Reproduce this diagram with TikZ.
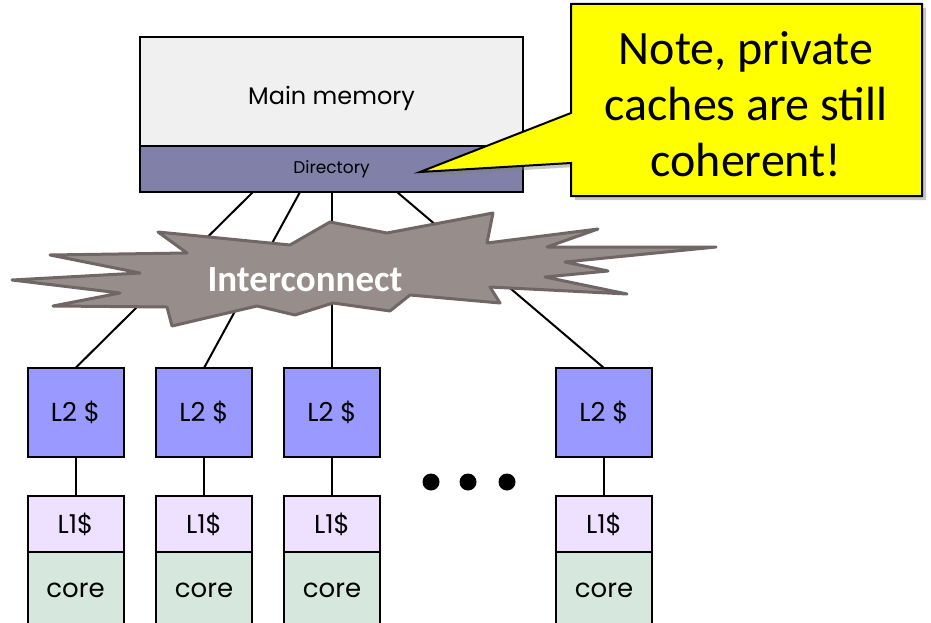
\documentclass[tikz,border=0pt]{standalone}
\usepackage{fontspec}
\setmainfont{Poppins}
\newfontfamily\calfont{Carlito}
\usetikzlibrary{positioning}
\usetikzlibrary{shadows}
\definecolor{memgray}{RGB}{240,240,240}
\definecolor{dircol}{RGB}{128,128,168}
\definecolor{ltwo}{RGB}{153,153,255}
\definecolor{lone}{RGB}{238,224,255}
\definecolor{corecol}{RGB}{214,232,222}
\definecolor{netfill}{RGB}{151,141,139}
\definecolor{netline}{RGB}{112,102,102}
\definecolor{noteyel}{RGB}{255,255,0}
\tikzset{box/.style={draw,line width=2pt,inner sep=0pt,outer sep=0pt}}
\tikzset{ltwobox/.style={box,fill=ltwo,minimum width=96pt,minimum height=89pt,font=\fontsize{26}{30}\selectfont}}
\tikzset{lonebox/.style={box,fill=lone,minimum width=96pt,minimum height=56pt,font=\fontsize{26}{30}\selectfont}}
\tikzset{corebox/.style={box,fill=corecol,minimum width=96pt,minimum height=76pt,font=\fontsize{26}{30}\selectfont}}
\tikzset{wire/.style={line width=2pt}}

\begin{document}
\begin{tikzpicture}[x=1pt,y=-1pt]
                \clip (0,0) rectangle (931,623);

                % Memory
                \node[box,fill=memgray,minimum width=383pt,minimum height=109pt,text height=27pt,text depth=0pt,font=\fontsize{24}{28}\selectfont] (mem) at (331.5,91.5) {Main memory};
                \node[box,fill=dircol,minimum width=383pt,minimum height=46pt,font=\fontsize{17}{20}\selectfont,below=0pt of mem] (dir) {Directory};

                % Caches
                \node[ltwobox] (l2a) at (75.5,412.5) {L2 \$};
                \node[ltwobox] (l2b) at (204,412.5) {L2 \$};
                \node[ltwobox] (l2c) at (332,412.5) {L2 \$};
                \node[ltwobox] (l2d) at (604,412.5) {L2 \$};

                \node[lonebox] (l1a) at (75.5,524) {L1\$};
                \node[lonebox] (l1b) at (204,524) {L1\$};
                \node[lonebox] (l1c) at (332,524) {L1\$};
                \node[lonebox] (l1d) at (604,524) {L1\$};

                \node[corebox,below=0pt of l1a] (corea) {core};
                \node[corebox,below=0pt of l1b] (coreb) {core};
                \node[corebox,below=0pt of l1c] (corec) {core};
                \node[corebox,below=0pt of l1d] (cored) {core};

                \draw[wire] (l2a) -- (l1a);
                \draw[wire] (l2b) -- (l1b);
                \draw[wire] (l2c) -- (l1c);
                \draw[wire] (l2d) -- (l1d);

                % Links
                \coordinate (da) at (253,192);
                \coordinate (db) at (300,192);
                \coordinate (dc) at (332,192);
                \coordinate (dd) at (397,192);
                \draw[wire] (da) -- (l2a.north);
                \draw[wire] (db) -- (l2b.north);
                \draw[wire] (dc) -- (l2c.north);
                \draw[wire] (dd) -- (l2d.north);

                % Interconnect
                \filldraw[fill=netfill,draw=netline,line width=3pt,line join=round]
                    (12,280) -- (140,273) -- (50,255) -- (187,253) -- (158,232) -- (290,245)
                    -- (330,222) -- (387,233) -- (493,213) -- (487,243) -- (598,229) -- (547,247)
                    -- (716,247) -- (565,262) -- (608,271) -- (545,277) -- (627,294) -- (490,287)
                    -- (500,303) -- (410,295) -- (390,311) -- (333,303) -- (295,315) -- (257,306)
                    -- (172,326) -- (167,307) -- (53,306) -- (120,293) -- cycle;
                \node[text=white,font=\calfont\bfseries\fontsize{37}{42}\selectfont] (net) at (305,280) {Interconnect};

                % Dots
                \fill (431,482) circle (8.5);
                \fill (468,482) circle (8.5);
                \fill (507,482) circle (8.5);

                % Note
                \coordinate (tip) at (420,172);
                \filldraw[fill=noteyel,line width=2pt,drop shadow={shadow xshift=4pt,shadow yshift=-4pt,opacity=0.45}]
                    (571,4) -- (922,4) -- (922,196) -- (571,196) -- (571,163) -- (tip) -- (571,113) -- cycle;
                \node[align=center,font=\calfont\fontsize{48}{56}\selectfont] (note) at (746,104) {Note, private\\caches are still\\coherent!};
            \end{tikzpicture}
\end{document}
